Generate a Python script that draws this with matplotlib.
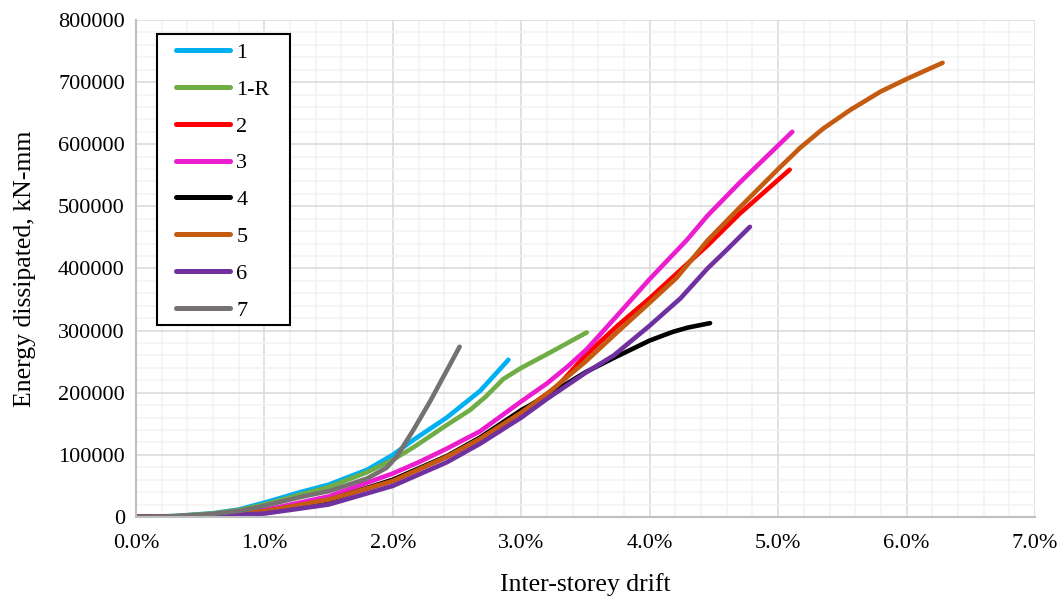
import matplotlib.pyplot as plt
from matplotlib.patches import Rectangle
from matplotlib.ticker import MultipleLocator, FuncFormatter

plt.rcParams['font.family'] = ['Liberation Serif', 'DejaVu Serif']

# drift in %, energy in kN-mm
drift_1 = [0, 0.3, 0.6, 0.8, 1.0, 1.28, 1.5, 1.8, 2.0, 2.16, 2.42, 2.68, 2.9]
energy_1 = [0, 1500, 6000, 12000, 23000, 40000, 52000, 76000, 100000, 124000, 160000, 203000, 253000]

drift_1r = [0, 0.3, 0.6, 0.8, 1.0, 1.28, 1.5, 1.8, 2.0, 2.16, 2.42, 2.6, 2.72, 2.86, 3.0, 3.2, 3.51]
energy_1r = [0, 1500, 5500, 11000, 20000, 36000, 48000, 72000, 92000, 112000, 148000, 172000, 193000, 222000, 240000, 262000, 297000]

drift_2 = [0, 0.5, 1.0, 1.5, 2.0, 2.42, 2.68, 3.0, 3.28, 3.5, 3.75, 4.0, 4.2, 4.45, 4.7, 5.09]
energy_2 = [0, 1500, 9000, 28000, 58000, 97000, 126000, 169000, 210000, 260000, 308000, 352000, 390000, 437000, 488000, 559000]

drift_3 = [0, 0.5, 1.0, 1.5, 2.0, 2.2, 2.42, 2.68, 3.0, 3.2, 3.36, 3.51, 3.75, 4.0, 4.29, 4.45, 4.7, 4.96, 5.11]
energy_3 = [0, 2000, 11000, 33000, 70000, 88000, 110000, 138000, 186000, 215000, 242000, 270000, 325000, 383000, 446000, 485000, 538000, 590000, 620000]

drift_4 = [0, 0.5, 1.0, 1.5, 2.0, 2.42, 2.68, 3.0, 3.2, 3.5, 3.72, 4.0, 4.18, 4.3, 4.47]
energy_4 = [0, 1200, 8500, 27000, 60000, 98000, 128000, 172000, 195000, 233000, 256000, 284000, 298000, 305000, 312000]

drift_5 = [0, 0.5, 1.0, 1.5, 2.0, 2.42, 2.68, 3.0, 3.2, 3.5, 3.75, 4.0, 4.21, 4.45, 4.7, 5.0, 5.17, 5.35, 5.56, 5.8, 6.0, 6.28]
energy_5 = [0, 1500, 9000, 28000, 58000, 97000, 126000, 168000, 198000, 250000, 298000, 345000, 385000, 445000, 498000, 560000, 594000, 625000, 655000, 685000, 705000, 731000]

drift_6 = [0, 0.5, 1.0, 1.5, 2.0, 2.42, 2.68, 3.0, 3.2, 3.5, 3.72, 4.0, 4.24, 4.45, 4.6, 4.78]
energy_6 = [0, 800, 5500, 20000, 50000, 88000, 118000, 160000, 190000, 232000, 260000, 308000, 352000, 400000, 430000, 467000]

drift_7 = [0, 0.3, 0.6, 0.81, 1.0, 1.28, 1.51, 1.8, 1.95, 2.03, 2.16, 2.29, 2.52]
energy_7 = [0, 1000, 5000, 10000, 18000, 32000, 42000, 62000, 79000, 97000, 140000, 186000, 274000]

labels = ["1", "1-R", "2", "3", "4", "5", "6", "7"]
colors = ["#00B0F0", "#70AD47", "#FF0000", "#EC1CCF", "#000000", "#C55A11", "#7030A0", "#767171"]
series = [(drift_1, energy_1), (drift_1r, energy_1r), (drift_2, energy_2), (drift_3, energy_3),
          (drift_4, energy_4), (drift_5, energy_5), (drift_6, energy_6), (drift_7, energy_7)]

fig = plt.figure(figsize=(10.62, 5.98), dpi=100)
ax = fig.add_axes([0.128, 0.1355, 0.8466, 0.8311])

for (x, y), lab, c in zip(series, labels, colors):
    ax.plot(x, y, color=c, lw=3.3, label=lab, solid_capstyle="round", solid_joinstyle="round")

ax.set_xlim(0, 7)
ax.set_ylim(0, 800000)
ax.xaxis.set_major_locator(MultipleLocator(1))
ax.xaxis.set_minor_locator(MultipleLocator(0.2))
ax.yaxis.set_major_locator(MultipleLocator(100000))
ax.yaxis.set_minor_locator(MultipleLocator(20000))
ax.xaxis.set_major_formatter(FuncFormatter(lambda v, p: "%.1f%%" % v))
ax.yaxis.set_major_formatter(FuncFormatter(lambda v, p: "%d" % v))

ax.grid(which="major", color="#D9D9D9", lw=1.1, zorder=0)
ax.grid(which="minor", color="#F2F2F2", lw=1.1, zorder=0)
ax.set_axisbelow(True)
ax.tick_params(which="both", length=0, labelsize=16, colors="black")
ax.tick_params(axis="x", pad=12)
ax.tick_params(axis="y", pad=8)

for s in ["top", "right"]:
    ax.spines[s].set_visible(False)
for s in ["left", "bottom"]:
    ax.spines[s].set_color("#BFBFBF")
    ax.spines[s].set_linewidth(1.5)

ax.set_xlabel("Inter-storey drift", fontsize=18.5, labelpad=15)
ax.set_ylabel("Energy dissipated, kN-mm", fontsize=18.5, labelpad=16)

# legend box drawn separately so the padding matches the original
ax.add_patch(Rectangle((0.0234, 0.3863), 0.1479, 0.5855, transform=ax.transAxes,
                       facecolor="white", edgecolor="black", lw=1.5, zorder=5))
leg = ax.legend(loc="upper left", bbox_to_anchor=(0.0445, 0.9546), fontsize=16,
                handlelength=2.45, handletextpad=0.27, labelspacing=0.73,
                borderpad=0, borderaxespad=0, frameon=False)
leg.set_zorder(6)
for h in leg.get_lines():
    h.set_linewidth(3.6)

fig.savefig("out.png", dpi=100)
